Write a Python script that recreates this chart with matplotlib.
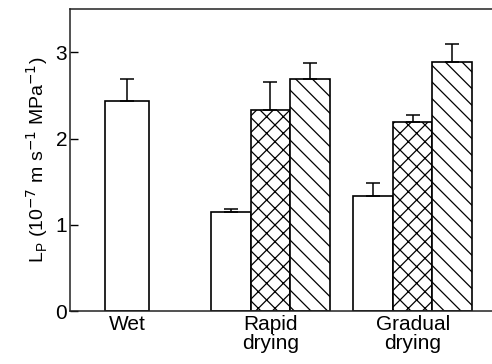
import numpy as np
import matplotlib.pyplot as plt

plt.rcParams['font.family'] = ['Liberation Sans', 'DejaVu Sans']
plt.rcParams['hatch.linewidth'] = 0.9

# data
groups = ['Wet', 'Rapid\ndrying', 'Gradual\ndrying']
wet_val = [2.43]
wet_err = [0.26]
open_val = [1.15, 1.34]
open_err = [0.04, 0.14]
cross_val = [2.33, 2.19]
cross_err = [0.33, 0.08]
diag_val = [2.69, 2.89]
diag_err = [0.18, 0.21]

centers = np.array([1.45, 5.07, 8.67])
w = 1.0

fig = plt.figure(figsize=(4.92, 3.64), dpi=100)
ax = fig.add_axes([70/492, 1 - 311.3/364, 1 - 70/492 + 0.01, (311.3 - 9)/364])

kw = dict(edgecolor='black', linewidth=1.2, facecolor='white', zorder=2)
ekw = dict(ecolor='black', elinewidth=1.1, capsize=5, capthick=1.1)

def up(e):
    return [np.zeros(len(e)), e]

ax.bar(centers[:1], wet_val, width=1.11, yerr=up(wet_err), error_kw=ekw, **kw)
ax.bar(centers[1:] - w, open_val, width=w, yerr=up(open_err), error_kw=ekw, **kw)
ax.bar(centers[1:], cross_val, width=w, yerr=up(cross_err), error_kw=ekw, hatch='xx', **kw)
ax.bar(centers[1:] + w, diag_val, width=w, yerr=up(diag_err), error_kw=ekw, hatch='\\\\', **kw)

ax.set_xlim(0, 10.8)
ax.set_ylim(0, 3.5)
ax.set_yticks([0, 1, 2, 3])
ax.set_xticks(centers)
ax.set_xticklabels(groups, fontsize=15, linespacing=0.95)
ax.tick_params(axis='x', length=0, pad=3)
ax.tick_params(axis='y', direction='in', length=6, width=1, labelsize=15, pad=2)
ax.spines['right'].set_visible(False)
for s in ['left', 'top', 'bottom']:
    ax.spines[s].set_linewidth(1.1)
    ax.spines[s].set_color('#222222')

ax.set_ylabel(r'L$_\mathregular{P}$ (10$^{-7}$ m s$^{-1}$ MPa$^{-1}$)', fontsize=14, labelpad=4)

fig.savefig('out.png', dpi=100)
